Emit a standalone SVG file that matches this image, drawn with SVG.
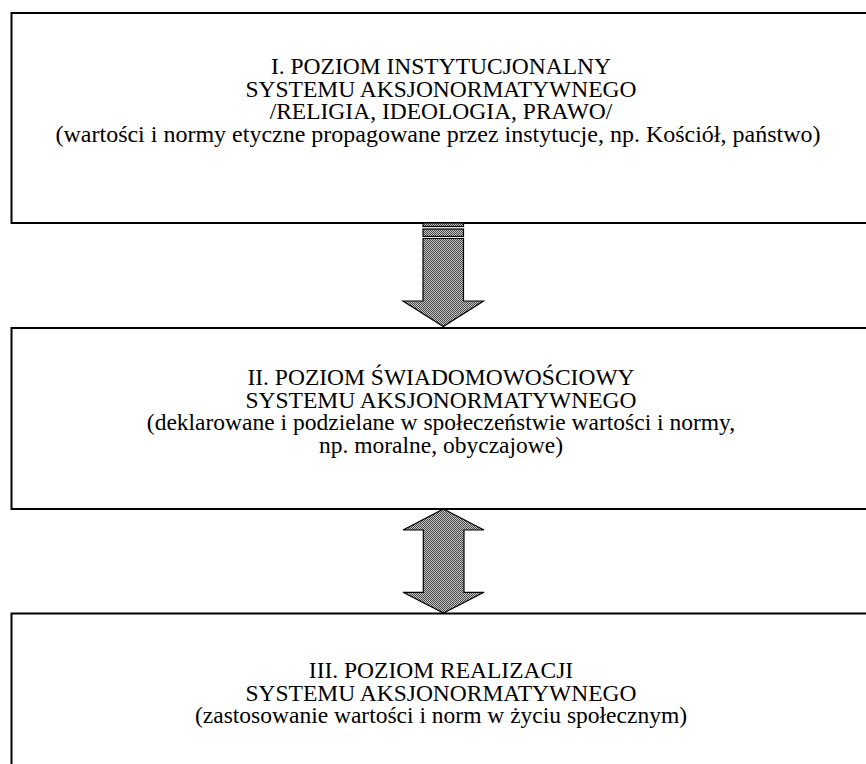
<svg xmlns="http://www.w3.org/2000/svg" width="866" height="764" viewBox="0 0 866 764">
<defs>
<pattern id="dots" width="2" height="2" patternUnits="userSpaceOnUse">
<rect width="2" height="2" fill="#c4c4c4"/>
<rect width="1" height="1" fill="#4a4a4a"/>
<rect x="1" y="1" width="1" height="1" fill="#4a4a4a"/>
</pattern>
<style>
.box{fill:#ffffff;stroke:#000000;stroke-width:2}
.arr{fill:url(#dots);stroke:#000000;stroke-width:1.2;stroke-linejoin:miter}
.t{font-family:"Liberation Serif","Times New Roman",serif;font-size:23.5px;fill:#000000;text-anchor:middle}
</style>
</defs>
<rect width="866" height="764" fill="#ffffff"/>
<g id="level1">
<rect class="box" x="11.5" y="13" width="870" height="210"/>
<text class="t" x="441" y="74">I. POZIOM INSTYTUCJONALNY</text>
<text class="t" x="441" y="96.5">SYSTEMU AKSJONORMATYWNEGO</text>
<text class="t" x="441" y="119">/RELIGIA, IDEOLOGIA, PRAWO/</text>
<text class="t" x="438" y="141.5" textLength="765" lengthAdjust="spacingAndGlyphs">(wartości i normy etyczne propagowane przez instytucje, np. Kościół, państwo)</text>
</g>
<g id="level2">
<rect class="box" x="11.5" y="328" width="870" height="181"/>
<text class="t" x="441" y="385">II. POZIOM ŚWIADOMOWOŚCIOWY</text>
<text class="t" x="441" y="407.5">SYSTEMU AKSJONORMATYWNEGO</text>
<text class="t" x="441" y="430">(deklarowane i podzielane w społeczeństwie wartości i normy,</text>
<text class="t" x="441" y="452.5">np. moralne, obyczajowe)</text>
</g>
<g id="level3">
<rect class="box" x="11.5" y="613.5" width="870" height="200"/>
<text class="t" x="441" y="678">III. POZIOM REALIZACJI</text>
<text class="t" x="441" y="700.5">SYSTEMU AKSJONORMATYWNEGO</text>
<text class="t" x="441" y="723">(zastosowanie wartości i norm w życiu społecznym)</text>
</g>
<g id="connectors">
<rect class="arr" x="423" y="223" width="40.5" height="3.5"/>
<rect class="arr" x="423" y="229" width="40.5" height="7.5"/>
<polygon class="arr" points="423,238.5 463.5,238.5 463.5,301 483.5,301 443.3,326.5 403,301 423,301"/>
<polygon class="arr" points="443.5,509 484,530 464,530 464,592.3 484,592.3 443.5,613 403,592.3 423.3,592.3 423.3,530 403,530"/>
</g>
</svg>
